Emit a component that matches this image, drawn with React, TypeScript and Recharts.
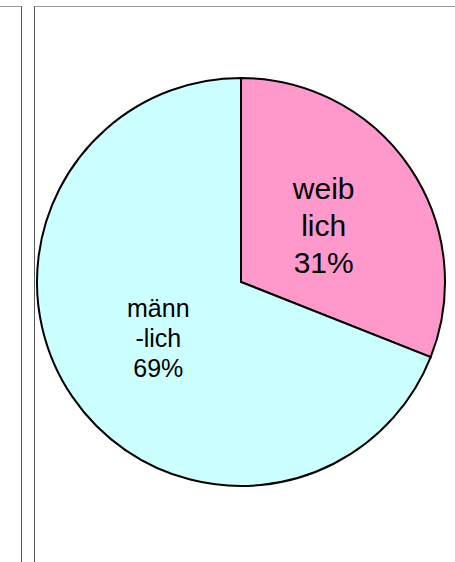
import React from 'react';
import { PieChart, Pie, Cell } from 'recharts';

// Geschlechterverteilung
const labels = [['weib', 'lich'], ['männ', '-lich']];
const values = [31, 69];
const colors = ['#FF99CC', '#CCFFFF'];
const fontSizes = [30, 25];
const lineHeights = [37, 30];

const data = values.map((v, i) => ({ name: labels[i].join(''), value: v }));

const RAD = Math.PI / 180;

const renderLabel = (props: any) => {
    const { cx, cy, midAngle, outerRadius, index, percent } = props;
    const r = outerRadius * 0.49;
    const x = cx + r * Math.cos(-midAngle * RAD);
    const y = cy + r * Math.sin(-midAngle * RAD);
    const lines = [...labels[index], `${Math.round(percent * 100)}%`];
    const fs = fontSizes[index];
    const lh = lineHeights[index];
    return (
        <text
            x={x}
            y={y}
            textAnchor="middle"
            fill="#000"
            fontSize={fs}
            fontFamily="'Liberation Sans', Arial, sans-serif"
        >
            {lines.map((t, i) => (
                <tspan key={i} x={x} y={y + (i - (lines.length - 1) / 2) * lh} dy="0.35em">
                    {t}
                </tspan>
            ))}
        </text>
    );
};

export default function App() {
    return (
        <div style={{ position: 'absolute', left: 0, top: 0, width: 455, height: 562, background: '#fff' }}>
            {/* Rahmenlinien */}
            <div style={{ position: 'absolute', left: 0, top: 6, width: 21, height: 556, borderTop: '1px solid #999', borderRight: '1px solid #555' }} />
            <div style={{ position: 'absolute', left: 34, top: 6, width: 421, height: 556, borderTop: '1px solid #999', borderLeft: '1px solid #555' }} />
            <div style={{ position: 'absolute', left: 0, top: 0 }}>
                <PieChart width={455} height={562} margin={{ top: 0, right: 0, bottom: 0, left: 0 }}>
                    <Pie
                        data={data}
                        dataKey="value"
                        cx={241}
                        cy={282}
                        outerRadius={204}
                        startAngle={90}
                        endAngle={-270}
                        stroke="#000"
                        strokeWidth={2}
                        label={renderLabel}
                        labelLine={false}
                        isAnimationActive={false}
                    >
                        {data.map((d, i) => (
                            <Cell key={d.name} fill={colors[i]} />
                        ))}
                    </Pie>
                </PieChart>
            </div>
        </div>
    );
}
